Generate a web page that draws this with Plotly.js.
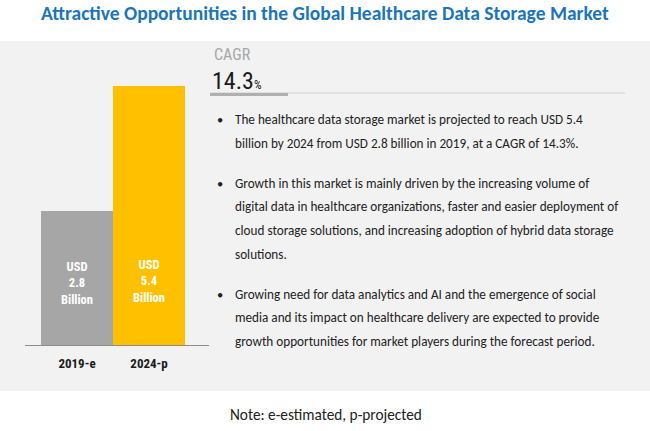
<!DOCTYPE html>
<html>
<head>
<meta charset="utf-8">
<script src="https://cdn.plot.ly/plotly-3.0.1.min.js"></script>
<style>html,body{margin:0;padding:0;background:#fff}</style>
</head>
<body>
<div id="chart" style="width:650px;height:431px"></div>
<script>
// ---- data ----
var categories = ["2019-e", "2024-p"];
var values = [2.8, 5.4];
var barColors = ["#a6a6a6", "#ffc000"];
var barLabels = ["USD<br>2.8<br>Billion", "USD<br>5.4<br>Billion"];
var titleText = "Attractive Opportunities in the Global Healthcare Data Storage Market";
var cagrLabel = "CAGR";
var cagrValue = "14.3";
var noteText = "Note: e-estimated, p-projected";
var bulletLines = [
  ["The healthcare data storage market is projected to reach USD 5.4",
   "billion by 2024 from USD 2.8 billion in 2019, at a CAGR of 14.3%."],
  ["Growth in this market is mainly driven by the increasing volume of",
   "digital data in healthcare organizations, faster and easier deployment of",
   "cloud storage solutions, and increasing adoption of hybrid data storage",
   "solutions."],
  ["Growing need for data analytics and AI and the emergence of social",
   "media and its impact on healthcare delivery are expected to provide",
   "growth opportunities for market players during the forecast period."]
];

// ---- layout helpers (pixel -> paper) ----
var W = 650, H = 431, ML = 25, MR = 441, MT = 41, MB = 86;
var PW = W - ML - MR, PH = H - MT - MB;
function px(x){ return (x - ML) / PW; }
function py(y){ return (H - MB - y) / PH; }

var bodyFont = "Carlito, Lato, 'Open Sans', sans-serif";
var narrowBold = "'Roboto Condensed', 'Liberation Sans Narrow', 'DejaVu Sans Condensed', Roboto, sans-serif";

var annotations = [];
annotations.push({xref:"paper", yref:"paper", x:px(325), y:py(13), xanchor:"center", yanchor:"middle",
  text:"<b>" + titleText + "</b>", showarrow:false,
  font:{family:bodyFont, size:19.5, color:"#1a75bb"}});
annotations.push({xref:"paper", yref:"paper", x:px(326), y:py(415), xanchor:"center", yanchor:"middle",
  text:noteText, showarrow:false, font:{family:bodyFont, size:15.3, color:"#222"}});
annotations.push({xref:"paper", yref:"paper", x:px(212), y:py(55), xanchor:"left", yanchor:"middle",
  text:cagrLabel, showarrow:false, font:{family:narrowBold, size:16, color:"#a6a6a6"}});
annotations.push({xref:"paper", yref:"paper", x:px(210), y:py(81), xanchor:"left", yanchor:"middle",
  text:cagrValue + "<span style='font-size:12px'>%</span>", showarrow:false,
  font:{family:narrowBold, size:24, color:"#1a1a1a"}});

// bar labels
var labelY = [283, 281];
for (var i = 0; i < categories.length; i++) {
  annotations.push({xref:"x", yref:"paper", x:i, y:py(labelY[i]), xanchor:"center", yanchor:"middle",
    text:"<b>" + barLabels[i] + "</b>", showarrow:false,
    font:{family:narrowBold, size:12.5, color:"#ffffff"}});
}

// bullets
var startY = [120, 183, 294];
var lineGap = 23.8;
for (var b = 0; b < bulletLines.length; b++) {
  annotations.push({xref:"paper", yref:"paper", x:px(215), y:py(startY[b]), xanchor:"left", yanchor:"middle",
    text:"•", showarrow:false, font:{family:bodyFont, size:12.5, color:"#222"}});
  for (var l = 0; l < bulletLines[b].length; l++) {
    annotations.push({xref:"paper", yref:"paper", x:px(233), y:py(startY[b] + l * lineGap),
      xanchor:"left", yanchor:"middle", text:bulletLines[b][l], showarrow:false,
      font:{family:bodyFont, size:13.2, color:"#222"}});
  }
}

var shapes = [
  {type:"rect", layer:"below", xref:"paper", yref:"paper", x0:px(0), x1:px(650), y0:py(391), y1:py(41),
   fillcolor:"#f2f2f2", line:{width:0}},
  {type:"line", xref:"paper", yref:"paper", x0:px(210), x1:px(625), y0:py(93), y1:py(93),
   line:{color:"#d0d0d0", width:1}},
  {type:"line", xref:"paper", yref:"paper", x0:px(210), x1:px(288), y0:py(94.5), y1:py(94.5),
   line:{color:"#b0b0b0", width:3}}
];

var trace = {
  type:"bar", x:categories, y:values, marker:{color:barColors, line:{width:0}},
  hoverinfo:"none", showlegend:false
};

var layout = {
  width:W, height:H,
  margin:{l:ML, r:MR, t:MT, b:MB, pad:0},
  paper_bgcolor:"#ffffff", plot_bgcolor:"rgba(0,0,0,0)",
  bargap:0,
  xaxis:{type:"category", range:[-0.722, 1.833], showgrid:false, zeroline:false,
    showline:true, linecolor:"#8c8c8c", linewidth:1, ticks:"",
    tickfont:{family:narrowBold, size:13, color:"#1a1a1a", weight:"bold"}, ticklabelstandoff:6},
  yaxis:{range:[0, 6.35], visible:false, showgrid:false, zeroline:false},
  shapes:shapes, annotations:annotations
};

Plotly.newPlot("chart", [trace], layout, {displayModeBar:false, staticPlot:true});
</script>
</body>
</html>
